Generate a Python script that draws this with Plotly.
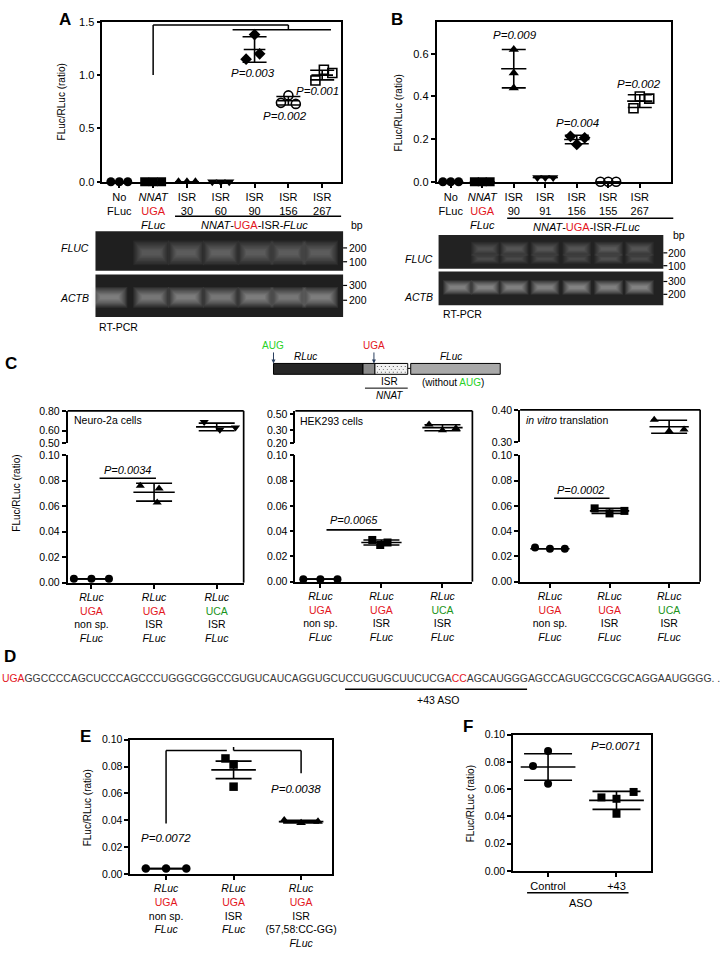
import math
import plotly.graph_objects as go

W, H = 727, 955
FONT = "Liberation Sans, Arial, sans-serif"
RED = "#e3161d"
GREEN = "#1b941b"
AUG_GREEN = "#27d127"


def red(s):
    return f"<span style='color:{RED}'>{s}</span>"


def green(s, c=GREEN):
    return f"<span style='color:{c}'>{s}</span>"


# =============================================================================
# Data
# =============================================================================
# --- A ---
A_LABELS = ["No<br>FLuc", f"<i>NNAT</i><br>{red('UGA')}<br><i>FLuc</i>",
            "ISR<br>30", "ISR<br>60", "ISR<br>90", "ISR<br>156", "ISR<br>267"]
A_POINTS = [[0, 0, 0], [0, 0, 0], [0, 0, 0], [0, 0, 0],
            [1.38, 1.20, 1.15], [0.81, 0.74, 0.73], [1.05, 1.02, 0.95]]
A_MEAN = [0, 0, 0, 0, 1.24, 0.76, 1.00]
A_SD = [0, 0, 0, 0, 0.12, 0.04, 0.045]
A_SYMBOLS = ["circle", "square", "triangle-up", "triangle-down", "diamond", "circle-open", "square-open"]
A_PVALS = ["P=0.003", "P=0.002", "P=0.001"]
A_FLUC_BAND = [0, 0.55, 0.6, 0.7, 0.62, 0.6, 0.58]
A_ACTB_BAND = [0.85, 0.75, 0.8, 0.75, 0.8, 0.75, 0.85]

# --- B ---
B_LABELS = ["No<br>FLuc", f"<i>NNAT</i><br>{red('UGA')}<br><i>FLuc</i>",
            "ISR<br>90", "ISR<br>91", "ISR<br>156", "ISR<br>155", "ISR<br>267"]
B_POINTS = [[0, 0, 0], [0, 0, 0], [0.62, 0.51, 0.44], [0.02, 0.02, 0.02],
            [0.213, 0.206, 0.175], [0, 0, 0], [0.40, 0.39, 0.345]]
B_MEAN = [0, 0, 0.53, 0.02, 0.198, 0, 0.378]
B_SD = [0, 0, 0.09, 0, 0.02, 0, 0.03]
B_SYMBOLS = ["circle", "square", "triangle-up", "triangle-down", "diamond", "circle-open", "square-open"]
B_PVALS = ["P=0.009", "P=0.004", "P=0.002"]
B_FLUC_BAND = [0.1, 0.5, 0.55, 0.55, 0.55, 0.6, 0.55]
B_ACTB_BAND = [0.85, 0.9, 0.85, 0.85, 0.9, 0.85, 0.9]

# --- C ---
C_LABELS = [f"<i>RLuc</i><br>{red('UGA')}<br>non sp.<br><i>FLuc</i>",
            f"<i>RLuc</i><br>{red('UGA')}<br>ISR<br><i>FLuc</i>",
            f"<i>RLuc</i><br>{green('UCA')}<br>ISR<br><i>FLuc</i>"]
C1_POINTS = [[0.003, 0.003, 0.003], [0.076, 0.074, 0.063], [0.68, 0.61, 0.63]]
C1_MEAN = [0.003, 0.071, 0.635]
C1_SD = [0, 0.007, 0.035]
C1_SYMBOLS = ["circle", "triangle-up", "triangle-down"]
C1_P = "P=0.0034"

C2_POINTS = [[0.002, 0.002, 0.002], [0.033, 0.031, 0.029], [0.36, 0.30, 0.32]]
C2_MEAN = [0.002, 0.031, 0.327]
C2_SD = [0, 0.002, 0.03]
C2_SYMBOLS = ["circle", "square", "triangle-up"]
C2_P = "P=0.0065"

C3_POINTS = [[0.027, 0.026, 0.026], [0.058, 0.054, 0.056], [0.37, 0.335, 0.34]]
C3_MEAN = [0.026, 0.056, 0.348]
C3_SD = [0, 0.002, 0.02]
C3_SYMBOLS = ["circle", "square", "triangle-up"]
C3_P = "P=0.0002"

# --- D ---
SEQ_STOP = "UGA"
SEQ_A = "GGCCCCAGCUCCCAGCCCUGGGCGGCCGUGUCAUCAGGUGCUCCUGUGCUUCUCGA"
SEQ_MUT = "CC"
SEQ_B = "AGCAUGGGAGCCAGUGCCGCGCAGGAAUGGGG. ."

# --- E ---
E_LABELS = [f"<i>RLuc</i><br>{red('UGA')}<br>non sp.<br><i>FLuc</i>",
            f"<i>RLuc</i><br>{red('UGA')}<br>ISR<br><i>FLuc</i>",
            f"<i>RLuc</i><br>{red('UGA')}<br>ISR<br>(57,58:CC-GG)<br><i>FLuc</i>"]
E_POINTS = [[0.004, 0.004, 0.004], [0.086, 0.0815, 0.065], [0.040, 0.038, 0.039]]
E_MEAN = [0.004, 0.0775, 0.039]
E_ERR = [0, 0.0065, 0.001]
E_SYMBOLS = ["circle", "square", "triangle-up"]
E_PVALS = ["P=0.0072", "P=0.0038"]

# --- F ---
F_LABELS = ["Control", "+43"]
F_POINTS = [[0.088, 0.077, 0.064], [0.058, 0.054, 0.053, 0.042]]
F_MEAN = [0.0763, 0.0518]
F_ERR = [0.0097, 0.0066]
F_SYMBOLS = ["circle", "square"]
F_P = "P=0.0071"


# =============================================================================
# Helpers
# =============================================================================
def fx(px):
    return px / W


def fy(py):
    return 1 - py / H


def dx(a, b):
    return [a / W, b / W]


def dy(top, bottom):
    return [1 - bottom / H, 1 - top / H]


fig = go.Figure()


def pline(x0, y0, x1, y1, width=1.5, color="black", xref="paper", yref="paper"):
    if xref == "paper":
        x0, x1 = fx(x0), fx(x1)
    if yref == "paper":
        y0, y1 = fy(y0), fy(y1)
    fig.add_shape(type="line", xref=xref, yref=yref, x0=x0, y0=y0, x1=x1, y1=y1,
                  line=dict(color=color, width=width))


def prect(x0, y0, x1, y1, fill, line_color=None, width=0):
    fig.add_shape(type="rect", xref="paper", yref="paper",
                  x0=fx(x0), y0=fy(y1), x1=fx(x1), y1=fy(y0), fillcolor=fill,
                  line=dict(color=line_color or fill, width=width), layer="above")


def txt(x, y, text, size=10, xanchor="center", color="black", angle=0, xref="paper", yref="paper"):
    fig.add_annotation(text=text, x=fx(x) if xref == "paper" else x, y=fy(y) if yref == "paper" else y,
                       xref=xref, yref=yref, showarrow=False, xanchor=xanchor, yanchor="middle",
                       textangle=angle, font=dict(size=size, color=color, family=FONT))


def add_points(xr, yr, points, offsets, symbols, size, cats=None):
    cats = cats if cats is not None else list(range(len(points)))
    for c, vals, offs, sym in zip(cats, points, offsets, symbols):
        is_open = "open" in sym
        fig.add_trace(go.Scatter(
            x=[c + o for o in offs], y=vals, mode="markers", xaxis=xr, yaxis=yr,
            marker=dict(symbol=sym, size=size, color="black",
                        line=dict(color="black", width=1.6 if is_open else 0)),
            cliponaxis=False, showlegend=False, hoverinfo="skip"))


def add_mean_sd(xr, yr, means, errs, half, cap, cats=None):
    cats = cats if cats is not None else list(range(len(means)))
    fig.add_trace(go.Scatter(
        x=cats, y=means, mode="markers", xaxis=xr, yaxis=yr,
        marker=dict(size=1, color="rgba(0,0,0,0)"),
        error_x=dict(type="constant", value=half, width=0, thickness=1.6, color="black"),
        error_y=dict(type="data", array=errs, width=cap, thickness=1.6, color="black"),
        cliponaxis=False, showlegend=False, hoverinfo="skip"))


def band(cx, cy, w, h, v):
    # fuzzy gel band: stacked translucent layers, brightest in the middle
    if v <= 0.15:
        return
    for k in range(8):
        sw = 1.2 - 0.08 * k
        sh = 2.1 - 0.24 * k
        prect(cx - w * sw / 2, cy - h * sh / 2, cx + w * sw / 2, cy + h * sh / 2,
              fill=f"rgba(225,225,225,{0.1 * v:.3f})")


AX = dict(showline=True, linecolor="black", linewidth=1.7, ticks="outside", ticklen=4,
          tickwidth=1.5, tickcolor="black", showgrid=False, zeroline=False,
          tickfont=dict(size=10.5, family=FONT, color="black"))

# =============================================================================
# Panel A
# =============================================================================
JIT3 = [-0.25, 0, 0.25]
A_OFFS = [JIT3, JIT3, JIT3, JIT3, [0, 0.15, -0.25], [0, -0.22, 0.22], [0.05, 0.3, -0.2]]
add_points("x", "y", A_POINTS, A_OFFS, A_SYMBOLS, 9)
add_mean_sd("x", "y", A_MEAN, A_SD, 0.32, 12)
for c, yv, t in zip([3.94, 4.91, 5.85], [1.02, 0.62, 0.85], A_PVALS):
    txt(c, yv, f"<i>{t}</i>", size=11.5, xref="x", yref="y")
pline(1, 1.0, 1, 1.47, xref="x", yref="y")
pline(1, 1.47, 5, 1.47, xref="x", yref="y")
pline(5, 1.47, 5, 1.425, xref="x", yref="y")
pline(3.35, 1.425, 6.26, 1.425, xref="x", yref="y")

pline(176, 213, 343, 213, width=1.5)
txt(256, 222, f"<i>NNAT</i>-{red('UGA')}-ISR-<i>FLuc</i>", size=11)
txt(62, 97, "FLuc/RLuc (ratio)", size=10, angle=-90)
txt(65, 14, "<b>A</b>", size=17)

# gels A
A_LANES = [110, 152, 187, 222, 257, 290, 322]
prect(96, 228, 345, 268, fill="#1f1f1f")
prect(96, 272, 345, 315, fill="#1f1f1f")
for lx, v in zip(A_LANES, A_FLUC_BAND):
    band(lx, 250, 30, 12, v * 0.8)
for lx, v in zip(A_LANES, A_ACTB_BAND):
    band(lx, 295, 30, 10, v)
txt(92, 245, "<i>FLUC</i>", size=10.5, xanchor="right")
txt(92, 296, "<i>ACTB</i>", size=10.5, xanchor="right")
txt(98, 325, "RT-PCR", size=10.5, xanchor="left")
txt(351, 222, "bp", size=10.5, xanchor="left")
for yy, lab in [(245, "200"), (259, "100"), (283, "300"), (298, "200")]:
    pline(345, yy, 349, yy, width=1.2)
    txt(349, yy, lab, size=10.5, xanchor="left")

# =============================================================================
# Panel B
# =============================================================================
B_OFFS = [JIT3, JIT3, [0, 0, 0], JIT3, [-0.2, 0.25, 0], JIT3, [0, 0.3, -0.2]]
add_points("x2", "y2", B_POINTS, B_OFFS, B_SYMBOLS, 9)
add_mean_sd("x2", "y2", B_MEAN, B_SD, 0.4, 12)
for c, yv, t in zip([2.03, 4.02, 5.98], [0.69, 0.277, 0.457], B_PVALS):
    txt(c, yv, f"<i>{t}</i>", size=11.5, xref="x2", yref="y2")
pline(510, 215, 677, 215, width=1.5)
txt(590, 224, f"<i>NNAT</i>-{red('UGA')}-ISR-<i>FLuc</i>", size=11)
txt(401, 108, "FLuc/RLuc (ratio)", size=10, angle=-90)
txt(399, 14, "<b>B</b>", size=17)

B_LANES = [460, 488, 517, 548, 580, 612, 643]
prect(441, 232, 667, 266, fill="#222222")
prect(441, 269, 667, 303, fill="#222222")
for lx, v in zip(B_LANES, B_FLUC_BAND):
    band(lx, 246, 24, 7, v * 0.7)
    band(lx, 256, 24, 5, v * 0.6)
for lx, v in zip(B_LANES, B_ACTB_BAND):
    band(lx, 285, 24, 7, v)
txt(437, 256, "<i>FLUC</i>", size=10.5, xanchor="right")
txt(437, 295, "<i>ACTB</i>", size=10.5, xanchor="right")
txt(443, 312, "RT-PCR", size=10.5, xanchor="left")
txt(675, 232, "bp", size=10.5, xanchor="left")
for yy, lab in [(250, "200"), (263, "100"), (279, "300"), (292, "200")]:
    pline(667, yy, 671, yy, width=1.2)
    txt(670, yy, lab, size=10.5, xanchor="left")

# =============================================================================
# Panel C (diagram + 3 broken-axis plots)
# =============================================================================
txt(11, 362, "<b>C</b>", size=17)
fig.add_annotation(text=green("AUG", AUG_GREEN), x=fx(275), y=fy(362), xref="paper", yref="paper",
                   showarrow=True, arrowhead=2, arrowsize=0.8, arrowwidth=1, ax=0, ay=-18,
                   font=dict(size=10, family=FONT))
fig.add_annotation(text=red("UGA"), x=fx(376), y=fy(362), xref="paper", yref="paper",
                   showarrow=True, arrowhead=2, arrowsize=0.8, arrowwidth=1, ax=0, ay=-18,
                   font=dict(size=10, family=FONT))
pline(410, 367, 413, 367, width=1)
prect(275, 362, 365, 373, fill="#262626", line_color="black", width=1)
prect(365, 362, 377, 373, fill="#8a8a8a", line_color="black", width=1)
prect(377, 362, 410, 373, fill="#f2f2f2", line_color="black", width=1)
for r in range(3):
    for k in range(8):
        xx = 379 + k * 4 + (r % 2) * 2
        yy = 364.5 + r * 3
        prect(xx, yy, xx + 1, yy + 1, fill="#555555")
prect(413, 362, 503, 373, fill="#a9a9a9", line_color="black", width=1)
txt(307, 355, "<i>RLuc</i>", size=10)
txt(453, 355, "<i>FLuc</i>", size=10)
txt(392, 380, "ISR", size=10)
pline(367, 387, 410, 387, width=1)
txt(392, 394, "<i>NNAT</i>", size=10)
txt(456, 381, f"(without {green('AUG', AUG_GREEN)})", size=10)

C_PANELS = [
    dict(x=3, yl=3, yu=4, pts=C1_POINTS, mean=C1_MEAN, sd=C1_SD, sym=C1_SYMBOLS,
         offs=[[-0.28, 0, 0.28], [-0.22, 0.08, 0.05], [-0.2, 0.05, 0.3]],
         p=C1_P, pline=(0.13, 1.03, 0.082), ptxt=(0.57, 0.0885)),
    dict(x=4, yl=5, yu=6, pts=C2_POINTS, mean=C2_MEAN, sd=C2_SD, sym=C2_SYMBOLS,
         offs=[[-0.28, 0, 0.28], [-0.15, 0.1, -0.02], [-0.22, 0, 0.22]],
         p=C2_P, pline=(0.1, 1.0, 0.041), ptxt=(0.55, 0.0485)),
    dict(x=5, yl=7, yu=8, pts=C3_POINTS, mean=C3_MEAN, sd=C3_SD, sym=C3_SYMBOLS,
         offs=[[-0.25, 0, 0.25], [-0.25, 0, 0.25], [-0.25, 0, 0.25]],
         p=C3_P, pline=(0.07, 1.0, 0.066), ptxt=(0.52, 0.0725)),
]
for cp in C_PANELS:
    xr, ylo, yup = f"x{cp['x']}", f"y{cp['yl']}", f"y{cp['yu']}"
    for i in range(3):
        yr = yup if cp["mean"][i] > 0.1 else ylo
        add_points(xr, yr, [cp["pts"][i]], [cp["offs"][i]], [cp["sym"][i]], 8, cats=[i])
        add_mean_sd(xr, yr, [cp["mean"][i]], [cp["sd"][i]], 0.33, 18, cats=[i])
    a, b, yv = cp["pline"]
    pline(a, yv, b, yv, width=1.6, xref=xr, yref=ylo)
    txt(cp["ptxt"][0], cp["ptxt"][1], f"<i>{cp['p']}</i>", size=11, xref=xr, yref=ylo)

# frames (top + right)
for L, R, T, B in [(68, 245, 410, 584), (297, 475, 410, 583), (523, 704, 409, 583)]:
    pline(L, T, R, T, width=1.7)
    pline(R, T, R, B, width=1.7)
txt(72, 419, "Neuro-2a cells", size=10.5, xanchor="left")
txt(300, 420, "HEK293 cells", size=10.5, xanchor="left")
txt(527, 419, "<i>in vitro</i> translation", size=10.5, xanchor="left")
txt(17, 493, "FLuc/RLuc (ratio)", size=10, angle=-90)

# =============================================================================
# Panel D
# =============================================================================
txt(10, 659, "<b>D</b>", size=17)
txt(0, 681, red(SEQ_STOP) + SEQ_A + red(SEQ_MUT) + SEQ_B, size=10.4, xanchor="left", color="#3a3a3a")
pline(347, 692, 530, 692, width=1.5)
txt(440, 703, "+43 ASO", size=10.5)

# =============================================================================
# Panel E
# =============================================================================
txt(86, 740, "<b>E</b>", size=17)
add_points("x6", "y9", E_POINTS, [[-0.3, 0, 0.3], [-0.12, 0, 0], [-0.25, 0, 0.25]], E_SYMBOLS, 8.5)
add_mean_sd("x6", "y9", E_MEAN, E_ERR, 0.33, 18)
pline(0, 0.0375, 0, 0.092, xref="x6", yref="y9")
pline(0, 0.092, 0.9, 0.092, xref="x6", yref="y9")
pline(1, 0.092, 2, 0.092, xref="x6", yref="y9")
pline(1, 0.092, 1, 0.0945, xref="x6", yref="y9")
pline(2, 0.092, 2, 0.075, xref="x6", yref="y9")
txt(0, 0.027, f"<i>{E_PVALS[0]}</i>", size=11.5, xref="x6", yref="y9")
txt(1.93, 0.063, f"<i>{E_PVALS[1]}</i>", size=11.5, xref="x6", yref="y9")
txt(88, 812, "FLuc/RLuc (ratio)", size=10, angle=-90)

# =============================================================================
# Panel F
# =============================================================================
txt(471, 730, "<b>F</b>", size=17)
add_points("x7", "y10", F_POINTS, [[0, -0.22, 0], [0.25, -0.22, 0, 0]], F_SYMBOLS, 8)
add_mean_sd("x7", "y10", F_MEAN, F_ERR, 0.4, 24)
txt(1.0, 0.092, f"<i>{F_P}</i>", size=11.5, xref="x7", yref="y10")
pline(530, 898, 632, 898, width=1.5)
txt(584, 908, "ASO", size=11)
txt(473, 808, "FLuc/RLuc (ratio)", size=10, angle=-90)

# =============================================================================
# Axes
# =============================================================================
def xax(dom, rng, anchor, vals, text, size=10.5, mirror=False):
    d = dict(AX, domain=dom, range=rng, anchor=anchor, tickvals=vals, ticktext=text, mirror=mirror)
    d["tickfont"] = dict(size=size, family=FONT, color="black")
    return d


def yax(dom, rng, anchor, size=10.5, mirror=False, **kw):
    d = dict(AX, domain=dom, range=rng, anchor=anchor, mirror=mirror, **kw)
    d["tickfont"] = dict(size=size, family=FONT, color="black")
    return d


LOW = dict(tickvals=[0, 0.02, 0.04, 0.06, 0.08, 0.10], tickformat=".2f")

fig.update_layout(
    width=W, height=H,
    margin=dict(l=0, r=0, t=0, b=0),
    paper_bgcolor="white", plot_bgcolor="rgba(0,0,0,0)",
    font=dict(family=FONT, color="black"),
    showlegend=False,
    xaxis=xax(dx(103, 343), [-0.5, 6.56], "y", list(range(7)), A_LABELS, size=11, mirror=True),
    yaxis=yax(dy(16, 178), [0, 1.5], "x", size=11, mirror=True, dtick=0.5, tickformat=".1f"),
    xaxis2=xax(dx(439, 675), [-0.45, 7.0], "y2", list(range(7)), B_LABELS, size=11, mirror=True),
    yaxis2=yax(dy(16, 178), [0, 0.75], "x2", size=11, mirror=True, dtick=0.2, tickformat=".1f"),
    xaxis3=xax(dx(68, 245), [-0.38, 2.43], "y3", [0, 1, 2], C_LABELS),
    yaxis3=yax(dy(455, 584), [0, 0.1], "x3", **LOW),
    yaxis4=yax(dy(410, 443), [math.log10(0.5), math.log10(0.8)], "x3", type="log",
               tickvals=[0.5, 0.6, 0.8], ticktext=["0.50", "0.60", "0.80"]),
    xaxis4=xax(dx(297, 475), [-0.41, 2.49], "y5", [0, 1, 2], C_LABELS),
    yaxis5=yax(dy(455, 583), [0, 0.1], "x4", **LOW),
    yaxis6=yax(dy(410, 443), [math.log10(0.2), math.log10(0.55)], "x4", type="log",
               tickvals=[0.2, 0.3, 0.5], ticktext=["0.20", "0.30", "0.50"]),
    xaxis5=xax(dx(523, 704), [-0.5, 2.52], "y7", [0, 1, 2], C_LABELS),
    yaxis7=yax(dy(455, 583), [0, 0.1], "x5", **LOW),
    yaxis8=yax(dy(409, 442), [0.3, 0.4], "x5", tickvals=[0.3, 0.4], tickformat=".2f"),
    xaxis6=xax(dx(131, 334), [-0.53, 2.46], "y9", [0, 1, 2], E_LABELS, mirror=True),
    yaxis9=yax(dy(743, 879), [0, 0.1], "x6", mirror=True, **LOW),
    xaxis7=xax(dx(516, 655), [-0.51, 1.51], "y10", [0, 1], F_LABELS, size=11, mirror=True),
    yaxis10=yax(dy(738, 876), [0, 0.1], "x7", mirror=True, **LOW),
)

# page body margin off, so the figure sits at the window's top-left corner
fig.write_html("out.html", config={"displayModeBar": False},
               post_script="document.body.style.margin='0px';")
